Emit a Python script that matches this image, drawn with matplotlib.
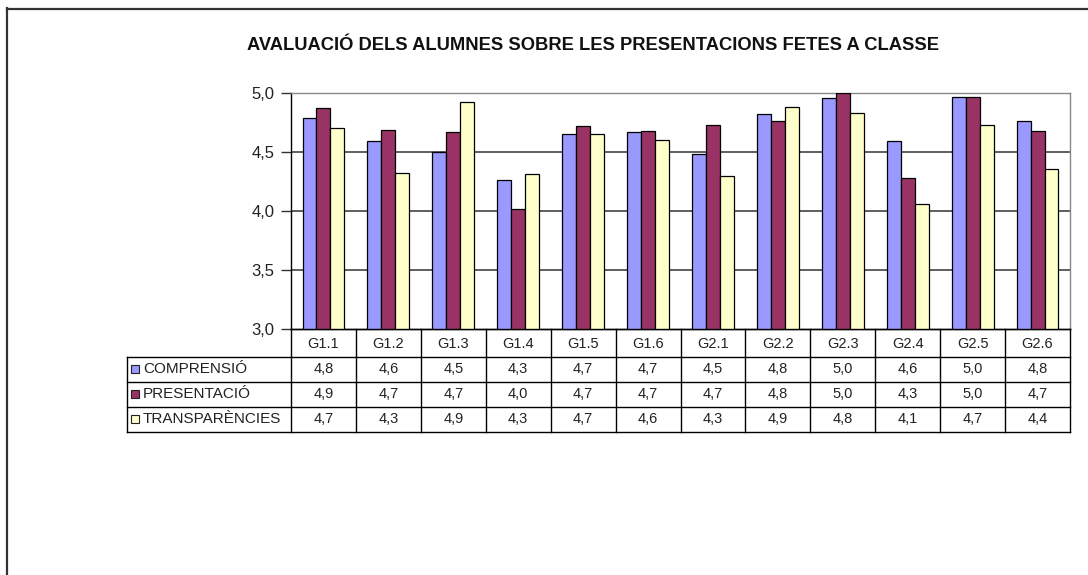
import matplotlib
matplotlib.use("Agg")
import matplotlib.pyplot as plt
from matplotlib.patches import Rectangle
from matplotlib.lines import Line2D
import numpy as np

plt.rcParams['font.family'] = ['Liberation Sans', 'DejaVu Sans']

# ---- data ----
categories = ["G1.1", "G1.2", "G1.3", "G1.4", "G1.5", "G1.6",
              "G2.1", "G2.2", "G2.3", "G2.4", "G2.5", "G2.6"]
series_names = ["COMPRENSIÓ", "PRESENTACIÓ", "TRANSPARÈNCIES"]
comprensio = [4.79, 4.59, 4.50, 4.26, 4.65, 4.67, 4.48, 4.82, 4.96, 4.59, 4.97, 4.76]
presentacio = [4.87, 4.69, 4.67, 4.02, 4.72, 4.68, 4.73, 4.76, 5.00, 4.28, 4.97, 4.68]
transparencies = [4.70, 4.32, 4.92, 4.31, 4.65, 4.60, 4.30, 4.88, 4.83, 4.06, 4.73, 4.36]
series = [comprensio, presentacio, transparencies]
colors = ["#9999FF", "#993366", "#FFFFCC"]
yticks = [3.0, 3.5, 4.0, 4.5, 5.0]
title = "AVALUACIÓ DELS ALUMNES SOBRE LES PRESENTACIONS FETES A CLASSE"

W, H = 1088, 575
fig = plt.figure(figsize=(W / 100, H / 100), dpi=100)
fig.patch.set_facecolor("white")

# plot area in pixels
px_l, px_r, px_t, px_b = 291, 1070, 93, 329
ax = fig.add_axes([px_l / W, 1 - px_b / H, (px_r - px_l) / W, (px_b - px_t) / H])
n = len(categories)
x = np.arange(n)
bw = 0.215
for k, (vals, c) in enumerate(zip(series, colors)):
    ax.bar(x + (k - 1) * bw, vals, width=bw, color=c, edgecolor="black",
           linewidth=0.9, zorder=3)
ax.set_xlim(-0.5, n - 0.5)
ax.set_ylim(3.0, 5.0)
ax.set_yticks(yticks)
ax.set_yticklabels([f"{v:.1f}".replace(".", ",") for v in yticks], fontsize=12,
                   color="#222222")
ax.set_xticks([])
for v in yticks[1:4]:
    ax.axhline(v, color="#333333", linewidth=1.1, zorder=1)
ax.tick_params(axis="y", length=7, width=1, color="#333333", pad=5)
ax.spines["left"].set_color("black")
ax.spines["left"].set_linewidth(1.0)
ax.spines["bottom"].set_color("black")
ax.spines["bottom"].set_linewidth(1.0)
ax.spines["top"].set_color("#888888")
ax.spines["right"].set_color("#888888")
ax.spines["top"].set_linewidth(1.0)
ax.spines["right"].set_linewidth(1.0)

# overlay axes in pixel coordinates for title, frame, table
ov = fig.add_axes([0, 0, 1, 1], zorder=5)
ov.set_xlim(0, W)
ov.set_ylim(H, 0)
ov.axis("off")
ov.patch.set_alpha(0)

# window frame (top and left)
ov.add_line(Line2D([7, W], [8.5, 8.5], color="#333333", linewidth=1.6))
ov.add_line(Line2D([6.5, 6.5], [8, H], color="#333333", linewidth=1.6))

ov.text(593, 45, title, ha="center", va="center", fontsize=13.2,
        fontweight="bold", color="#111111")

# table
col_w = (px_r - px_l) / n
leg_l = 127
row_y = [329, 356.5, 381.5, 406.5, 432]
lc = "black"
lw = 1.0
for i in range(n + 1):
    xx = px_l + i * col_w
    ov.add_line(Line2D([xx, xx], [row_y[0], row_y[-1]], color=lc, linewidth=lw))
ov.add_line(Line2D([leg_l, leg_l], [row_y[1], row_y[-1]], color=lc, linewidth=lw))
for j, yy in enumerate(row_y):
    x0 = px_l if j == 0 else leg_l
    ov.add_line(Line2D([x0, px_r], [yy, yy], color=lc, linewidth=lw))
for i, cat in enumerate(categories):
    ov.text(px_l + (i + 0.5) * col_w, (row_y[0] + row_y[1]) / 2 + 1, cat,
            ha="center", va="center", fontsize=10.5, color="#222222")
for r, (name, vals, c) in enumerate(zip(series_names, series, colors)):
    yc = (row_y[r + 1] + row_y[r + 2]) / 2
    ov.add_patch(Rectangle((131, yc - 4.5), 8, 8, facecolor=c, edgecolor="#222222",
                           linewidth=0.8))
    ov.text(143, yc, name, ha="left", va="center", fontsize=11, color="#222222")
    for i, v in enumerate(vals):
        ov.text(px_l + (i + 0.5) * col_w, yc, f"{v:.1f}".replace(".", ","),
                ha="center", va="center", fontsize=10.5, color="#222222")

fig.savefig("out.png", dpi=100)
